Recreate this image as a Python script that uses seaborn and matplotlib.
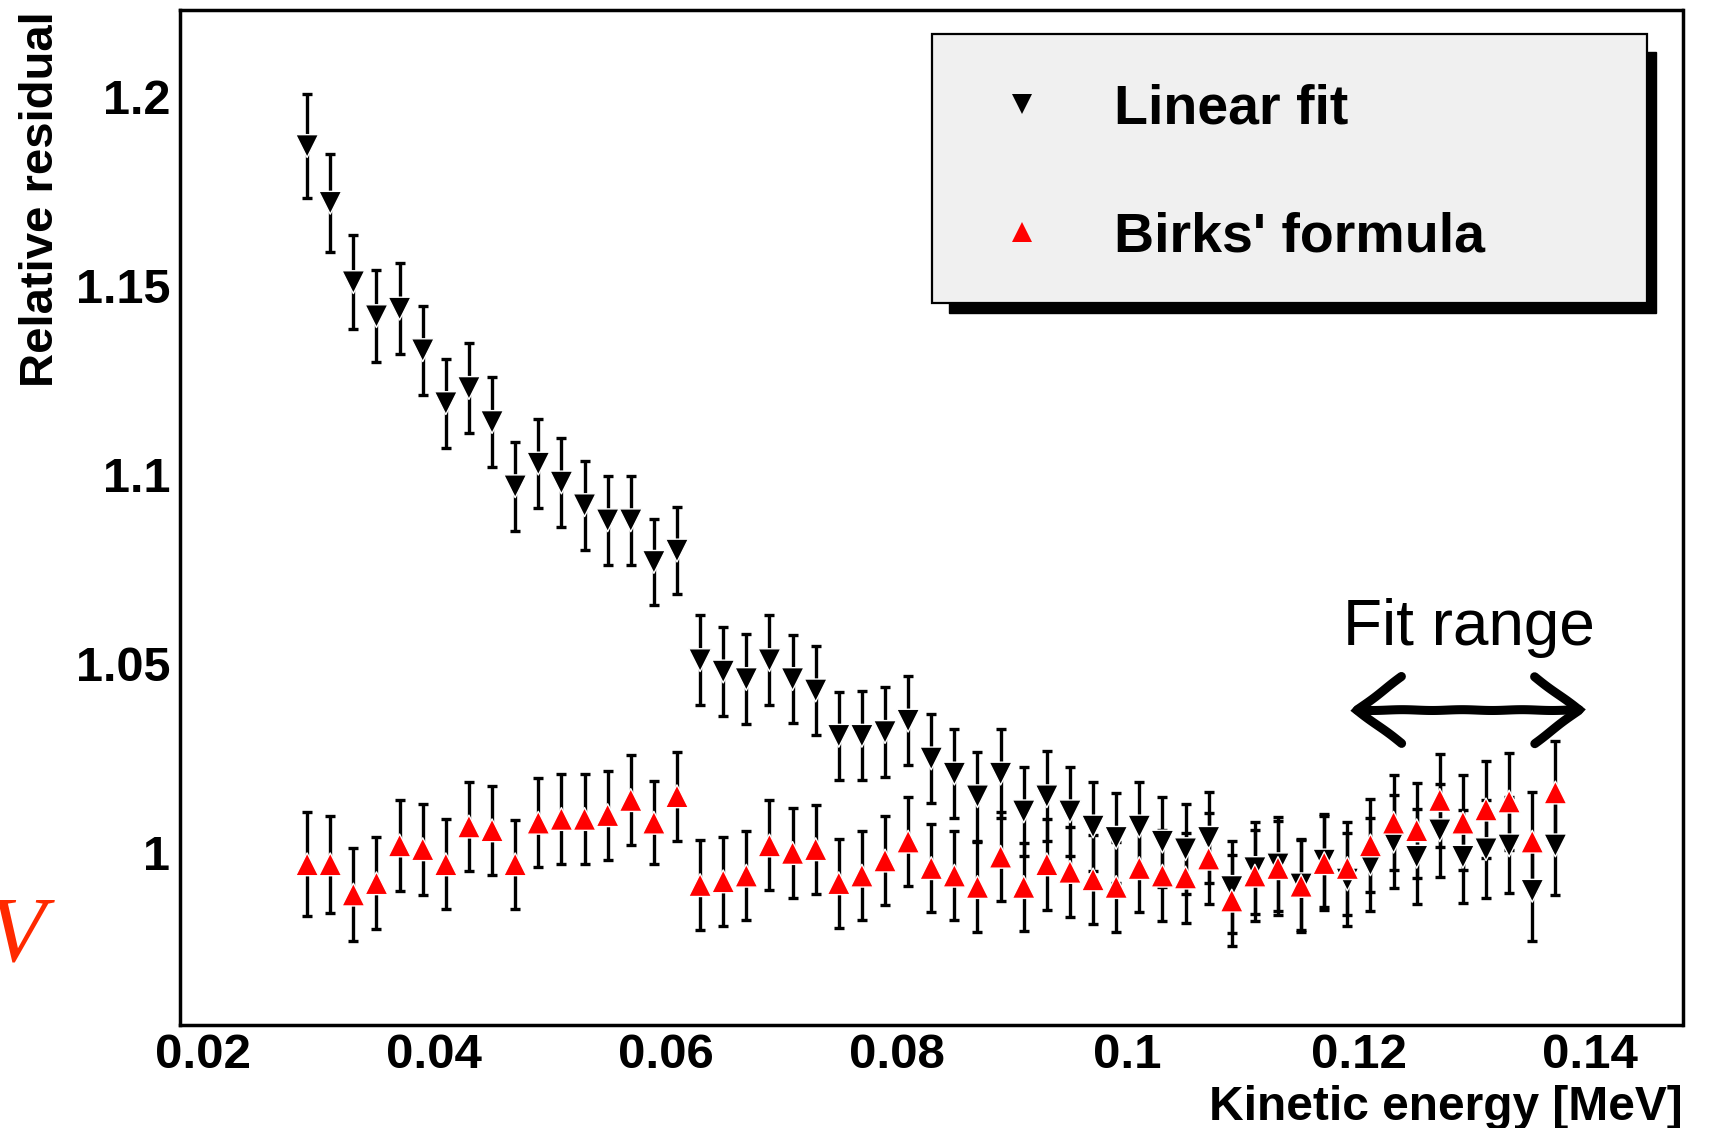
import numpy as np
import pandas as pd
import matplotlib
matplotlib.use("Agg")
import matplotlib.pyplot as plt
import seaborn as sns
from matplotlib.ticker import MultipleLocator, FixedLocator
from matplotlib.lines import Line2D
from matplotlib.patches import Rectangle

# Kinetic energy bins [MeV]
energy = [0.029, 0.031, 0.033, 0.035, 0.037, 0.039, 0.041, 0.043, 0.045, 0.047,
          0.049, 0.051, 0.053, 0.055, 0.057, 0.059, 0.061, 0.063, 0.065, 0.067,
          0.069, 0.071, 0.073, 0.075, 0.077, 0.079, 0.081, 0.083, 0.085, 0.087,
          0.089, 0.091, 0.093, 0.095, 0.097, 0.099, 0.101, 0.103, 0.105, 0.107,
          0.109, 0.111, 0.113, 0.115, 0.117, 0.119, 0.121, 0.123, 0.125, 0.127,
          0.129, 0.131, 0.133, 0.135, 0.137]

# Relative residual of the linear light-yield fit
linear_res = [1.187, 1.172, 1.151, 1.142, 1.144, 1.133, 1.119, 1.123, 1.114, 1.097,
              1.103, 1.098, 1.092, 1.088, 1.088, 1.077, 1.080, 1.051, 1.048, 1.046,
              1.051, 1.046, 1.043, 1.031, 1.031, 1.032, 1.035, 1.025, 1.021, 1.015,
              1.021, 1.011, 1.015, 1.011, 1.007, 1.004, 1.007, 1.003, 1.001, 1.004,
              0.991, 0.996, 0.997, 0.9917, 0.998, 0.993, 0.997, 1.003, 0.999, 1.006,
              0.999, 1.001, 1.002, 0.990, 1.002]
linear_err = [0.0137, 0.0130, 0.0124, 0.0121, 0.0120, 0.0118, 0.0118, 0.0118, 0.0118, 0.0118,
              0.0118, 0.0118, 0.0118, 0.0117, 0.0117, 0.0113, 0.0116, 0.0119, 0.0118, 0.0118,
              0.0119, 0.0117, 0.0118, 0.0117, 0.0118, 0.0118, 0.0118, 0.0118, 0.0117, 0.0118,
              0.0117, 0.0117, 0.0119, 0.0118, 0.0118, 0.0119, 0.0119, 0.0119, 0.0119, 0.0120,
              0.0121, 0.0121, 0.0124, 0.0121, 0.0122, 0.0124, 0.0123, 0.0123, 0.0126, 0.0123,
              0.0123, 0.0129, 0.0127, 0.0132, 0.0132]

# Relative residual of the Birks' formula fit
birks_res = [0.997, 0.997, 0.989, 0.992, 1.002, 1.001, 0.997, 1.007, 1.006, 0.997,
             1.008, 1.009, 1.009, 1.010, 1.014, 1.008, 1.015, 0.9915, 0.9925, 0.994,
             1.002, 1.000, 1.001, 0.992, 0.994, 0.998, 1.003, 0.996, 0.994, 0.991,
             0.999, 0.991, 0.997, 0.995, 0.993, 0.991, 0.996, 0.994, 0.9935, 0.9985,
             0.9874, 0.994, 0.996, 0.9913, 0.9973, 0.996, 1.002, 1.008, 1.006, 1.014,
             1.008, 1.0115, 1.0136, 1.003, 1.016]
birks_err = [0.0138, 0.0129, 0.0124, 0.0122, 0.0121, 0.0120, 0.0119, 0.0119, 0.0118, 0.0118,
             0.0118, 0.0118, 0.0118, 0.0118, 0.0118, 0.0110, 0.0118, 0.0119, 0.0118, 0.0117,
             0.0119, 0.0118, 0.0118, 0.0118, 0.0117, 0.0118, 0.0117, 0.0117, 0.0118, 0.0118,
             0.0118, 0.0116, 0.0120, 0.0119, 0.0118, 0.0118, 0.0116, 0.0120, 0.0119, 0.0120,
             0.0121, 0.0121, 0.0124, 0.0121, 0.0125, 0.0123, 0.0124, 0.0125, 0.0126, 0.0123,
             0.0125, 0.0128, 0.0128, 0.0130, 0.0137]

series_names = ["Linear fit", "Birks' formula"]
series_colors = {"Linear fit": "black", "Birks' formula": "#ff0000"}
series_markers = {"Linear fit": "v", "Birks' formula": "^"}

xtick_values = [0.02, 0.04, 0.06, 0.08, 0.10, 0.12, 0.14]
xtick_labels = ["0.02", "0.04", "0.06", "0.08", "0.1", "0.12", "0.14"]
ytick_values = [1.00, 1.05, 1.10, 1.15, 1.20]
ytick_labels = ["1", "1.05", "1.1", "1.15", "1.2"]

sns.set_theme(style="white")
plt.rcParams["font.family"] = ["Liberation Sans", "DejaVu Sans"]
for key in ["text.color", "axes.labelcolor", "xtick.color", "ytick.color"]:
    plt.rcParams[key] = "black"

df = pd.DataFrame({
    "energy": energy * 2,
    "residual": linear_res + birks_res,
    "err": linear_err + birks_err,
    "model": [series_names[0]] * len(energy) + [series_names[1]] * len(energy),
})

W, H = 1709, 1128
fig = plt.figure(figsize=(W / 100, H / 100), dpi=100, facecolor="white")
ax = fig.add_axes([180 / W, 1 - 1024.6 / H, (1682.5 - 180) / W, (1024.6 - 9.6) / H])
ax.set_facecolor("white")

# error bars for both series, black in both cases
for name in series_names:
    sub = df[df["model"] == name]
    ax.errorbar(sub["energy"], sub["residual"], yerr=sub["err"], fmt="none",
                ecolor="black", elinewidth=2.4, capsize=3.8, capthick=2.4, zorder=2)

sns.scatterplot(data=df, x="energy", y="residual", hue="model", style="model",
                palette=series_colors, markers=series_markers, s=270,
                edgecolor="white", linewidth=1.0, legend=False, ax=ax, zorder=3)

ax.set_xlim(0.018, 0.148)
ax.set_ylim(0.9546, 1.2231)

ax.xaxis.set_major_locator(FixedLocator(xtick_values))
ax.xaxis.set_minor_locator(MultipleLocator(0.005))
ax.yaxis.set_major_locator(FixedLocator(ytick_values))
ax.yaxis.set_minor_locator(MultipleLocator(0.01))
ax.set_xticklabels(xtick_labels, fontsize=35.5, fontweight="bold", color="black")
ax.set_yticklabels(ytick_labels, fontsize=35, fontweight="bold", color="black")

ax.tick_params(axis="both", which="both", direction="in", top=False, right=False,
               color="black", width=2.2)
ax.tick_params(axis="x", which="major", length=22.5, pad=6)
ax.tick_params(axis="x", which="minor", length=11)
ax.tick_params(axis="y", which="major", length=33, pad=7)
ax.tick_params(axis="y", which="minor", length=16.5)

for side in ["left", "right", "top", "bottom"]:
    ax.spines[side].set_visible(True)
    ax.spines[side].set_color("black")
    ax.spines[side].set_linewidth(2.5)

ax.set_xlabel("Kinetic energy [MeV]", fontsize=34.5, fontweight="bold",
              ha="right", va="baseline", color="black")
ax.xaxis.set_label_coords(1.0, -0.094)
ax.set_ylabel("Relative residual", fontsize=34, fontweight="bold",
              ha="right", va="center", color="black")
ax.yaxis.set_label_coords(-0.0922, 0.9986)

# fit range annotation: a heavy, slightly rough double arrow
ax.text(0.1186, 1.055, "Fit range", fontsize=46, fontweight="normal",
        ha="left", va="baseline", color="black")
arr = ax.annotate("", xy=(0.1397, 1.0378), xytext=(0.1192, 1.0378),
                  arrowprops=dict(arrowstyle="<->,head_length=1.6,head_width=1.2",
                                  lw=6.5, color="black", mutation_scale=20,
                                  shrinkA=0, shrinkB=0, joinstyle="miter"))
arr.arrow_patch.set_sketch_params(0.4, 60, 1)

# legend box with drop shadow
fig.add_artist(Rectangle((949 / W, 1 - 313 / H), (1656 - 949) / W, (313 - 52) / H,
                         transform=fig.transFigure, facecolor="black",
                         edgecolor="black", zorder=3))
fig.add_artist(Rectangle((932.5 / W, 1 - 302.7 / H), (1646.6 - 932.5) / W,
                         (302.7 - 34.3) / H, transform=fig.transFigure,
                         facecolor="#f0f0f0", edgecolor="black", lw=1.6, zorder=4))
handles = [Line2D([], [], ls="none", marker=series_markers[n], color=series_colors[n],
                  markersize=14, markeredgewidth=0) for n in series_names]
fig.legend(handles, series_names, loc="upper left",
           bbox_to_anchor=(994 / W, 1 - 83 / H), bbox_transform=fig.transFigure,
           frameon=False, prop={"size": 40, "weight": "bold"},
           handlelength=1.0, handletextpad=1.16, labelspacing=1.38,
           borderpad=0, borderaxespad=0)

# partial red symbol at the left margin
fig.text(45 / W, 1 - 961 / H, "V", ha="right", va="baseline", fontsize=68,
         color="#ff2a00", family="Liberation Serif", style="italic")

fig.savefig("out.png", dpi=100, facecolor="white")
